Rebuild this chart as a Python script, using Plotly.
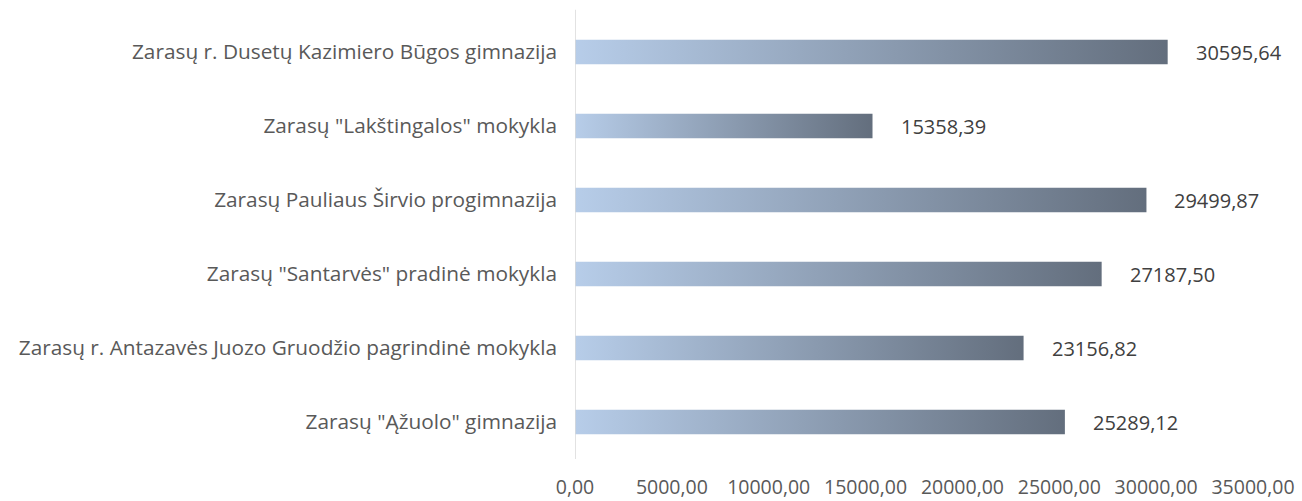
import plotly.graph_objects as go

schools = [
    'Zarasų "Ąžuolo" gimnazija',
    "Zarasų r. Antazavės Juozo Gruodžio pagrindinė mokykla",
    'Zarasų "Santarvės" pradinė mokykla',
    "Zarasų Pauliaus Širvio progimnazija",
    'Zarasų "Lakštingalos" mokykla',
    "Zarasų r. Dusetų Kazimiero Būgos gimnazija",
]
amounts = [25289.12, 23156.82, 27187.50, 29499.87, 15358.39, 30595.64]
tick_values = [0, 5000, 10000, 15000, 20000, 25000, 30000, 35000]

FONT = "Open Sans"
BAR_HALF = 0.165
GRADIENT = [[0, "#b7cde9"], [1, "#636e7d"]]


def fmt(v):
    return f"{v:.2f}".replace(".", ",")


fig = go.Figure()
for i, (name, val) in enumerate(zip(schools, amounts)):
    fig.add_trace(
        go.Scatter(
            x=[0, val, val, 0, 0],
            y=[i - BAR_HALF, i - BAR_HALF, i + BAR_HALF, i + BAR_HALF, i - BAR_HALF],
            mode="lines",
            line={"width": 0},
            fill="toself",
            fillgradient={"type": "horizontal", "colorscale": GRADIENT},
            hoverinfo="skip",
            showlegend=False,
        )
    )
    fig.add_annotation(
        x=val,
        y=i,
        text=fmt(val),
        showarrow=False,
        xanchor="left",
        xshift=26,
        font={"family": FONT, "size": 20, "color": "#404040"},
    )

fig.add_shape(
    type="line",
    xref="x",
    yref="paper",
    x0=0,
    x1=0,
    y0=0,
    y1=1.012,
    line={"color": "#d9d9d9", "width": 1.5},
)

fig.update_layout(
    width=1302,
    height=501,
    paper_bgcolor="white",
    plot_bgcolor="white",
    margin={"l": 575, "r": 49, "t": 15, "b": 42, "autoexpand": False},
    showlegend=False,
    font={"family": FONT, "size": 20, "color": "#595959"},
    xaxis={
        "range": [0, 35000],
        "tickvals": tick_values,
        "ticktext": [fmt(v) for v in tick_values],
        "showgrid": False,
        "zeroline": False,
        "showline": False,
        "ticks": "",
        "ticklabelstandoff": 14,
        "tickfont": {"size": 19.5},
        "automargin": False,
        "fixedrange": True,
    },
    yaxis={
        "range": [-0.5, 5.5],
        "tickvals": list(range(len(schools))),
        "ticktext": schools,
        "showgrid": False,
        "zeroline": False,
        "showline": False,
        "ticks": "",
        "ticklabelstandoff": 17,
        "tickfont": {"size": 20.8},
        "automargin": False,
        "fixedrange": True,
    },
)

fig.write_html(
    "out.html",
    config={"displayModeBar": False},
    post_script="document.body.style.margin = '0';",
)
